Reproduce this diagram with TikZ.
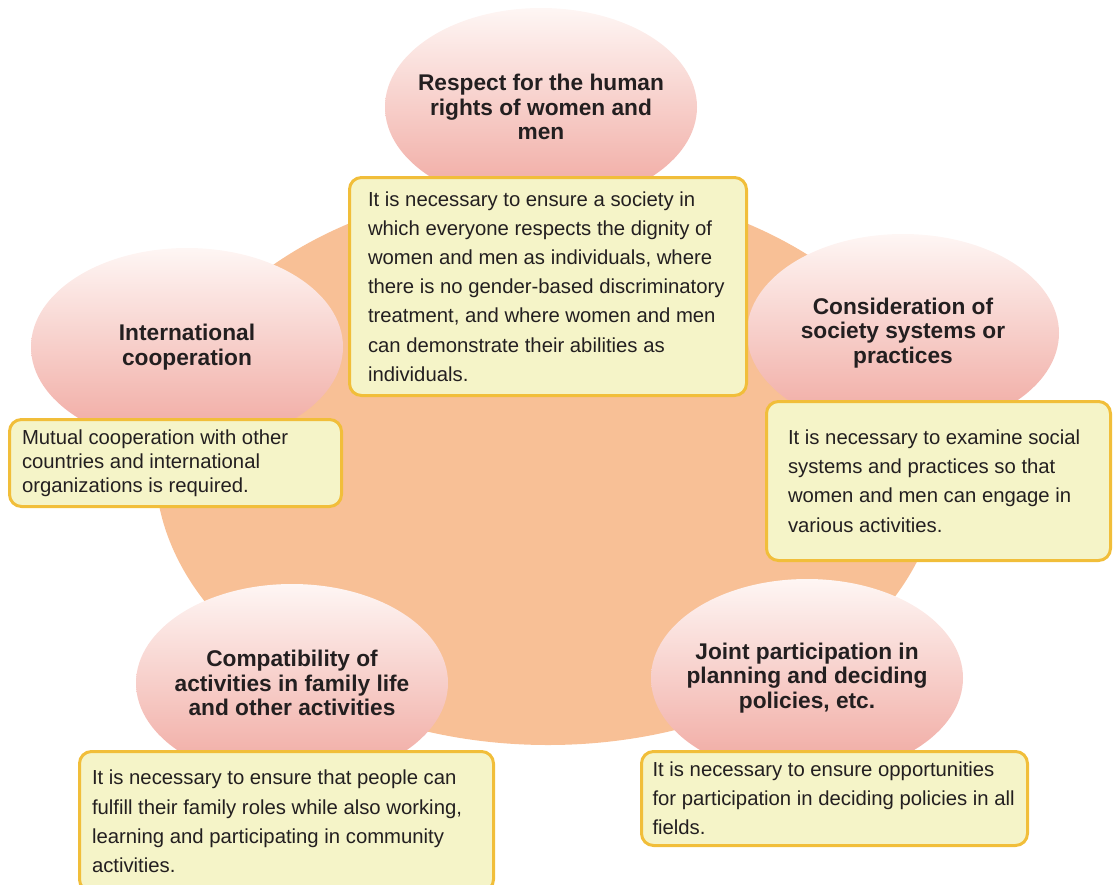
\documentclass[tikz,border=0pt]{standalone}
\usepackage{fontspec}
\setmainfont{Liberation Sans}
\usepackage{tikz}
\usetikzlibrary{shapes.geometric}

\definecolor{peach}{RGB}{248,192,150}
\definecolor{pinktop}{RGB}{254,246,244}
\definecolor{pinkbot}{RGB}{240,166,158}
\definecolor{notefill}{RGB}{245,244,200}
\definecolor{noteline}{RGB}{241,190,58}
\definecolor{ink}{RGB}{35,31,32}

\begin{document}
\begin{tikzpicture}[
  x=1pt, y=-1pt,
  topic/.style={ellipse, minimum width=312pt, minimum height=198pt, inner xsep=-14pt, inner ysep=0pt, top color=pinktop, bottom color=pinkbot, align=center, text=ink, font=\fontsize{22.7}{24.5}\selectfont\bfseries},
  note/.style={rectangle, rounded corners=12pt, draw=noteline, line width=3pt, fill=notefill, align=flush left, text=ink, font=\fontsize{20.3}{29.2}\selectfont, execute at begin node={\spaceskip=0pt\xspaceskip=0pt\relax}}
]

\clip (0, 0) rectangle (1113, 884);

\fill[peach] (548, 465) ellipse [x radius=393pt, y radius=280pt]; % The backdrop

\node[topic] (rights) at (541, 107) {Respect for the human\\rights of women and\\men};
\node[topic] (intl) at (187, 347) {International\\cooperation};
\node[topic] (systems) at (903, 333) {Consideration of\\society systems or\\practices};
\node[topic] (family) at (292, 683) {Compatibility of\\activities in family life\\and other activities};
\node[topic] (policy) at (807, 678) {Joint participation in\\planning and deciding\\policies, etc.};

\node[note, inner xsep=18.5pt, text width=360pt, minimum height=218pt] (rightsnote) at (548, 286.5) {It is necessary to ensure a society in\\which everyone respects the dignity of\\women and men as individuals, where\\there is no gender-based discriminatory\\treatment, and where women and men\\can demonstrate their abilities as\\individuals.};
\node[note, inner xsep=12.5pt, text width=307pt, minimum height=87pt, font=\fontsize{20.3}{24}\selectfont] (intlnote) at (175.5, 463) {Mutual cooperation with other\\countries and international\\organizations is required.};
\node[note, inner xsep=21.5pt, text width=301pt, minimum height=159pt] (systemsnote) at (938.5, 481) {It is necessary to examine social\\systems and practices so that\\women and men can engage in\\various activities.};
\node[note, inner xsep=12.5pt, text width=389pt, minimum height=140pt] (familynote) at (286.5, 821.5) {It is necessary to ensure that people can\\fulfill their family roles while also working,\\learning and participating in community\\activities.};
\node[note, inner xsep=11pt, text width=364pt, minimum height=94pt] (policynote) at (834.5, 798.5) {It is necessary to ensure opportunities\\for participation in deciding policies in all\\fields.};

\end{tikzpicture}
\end{document}
